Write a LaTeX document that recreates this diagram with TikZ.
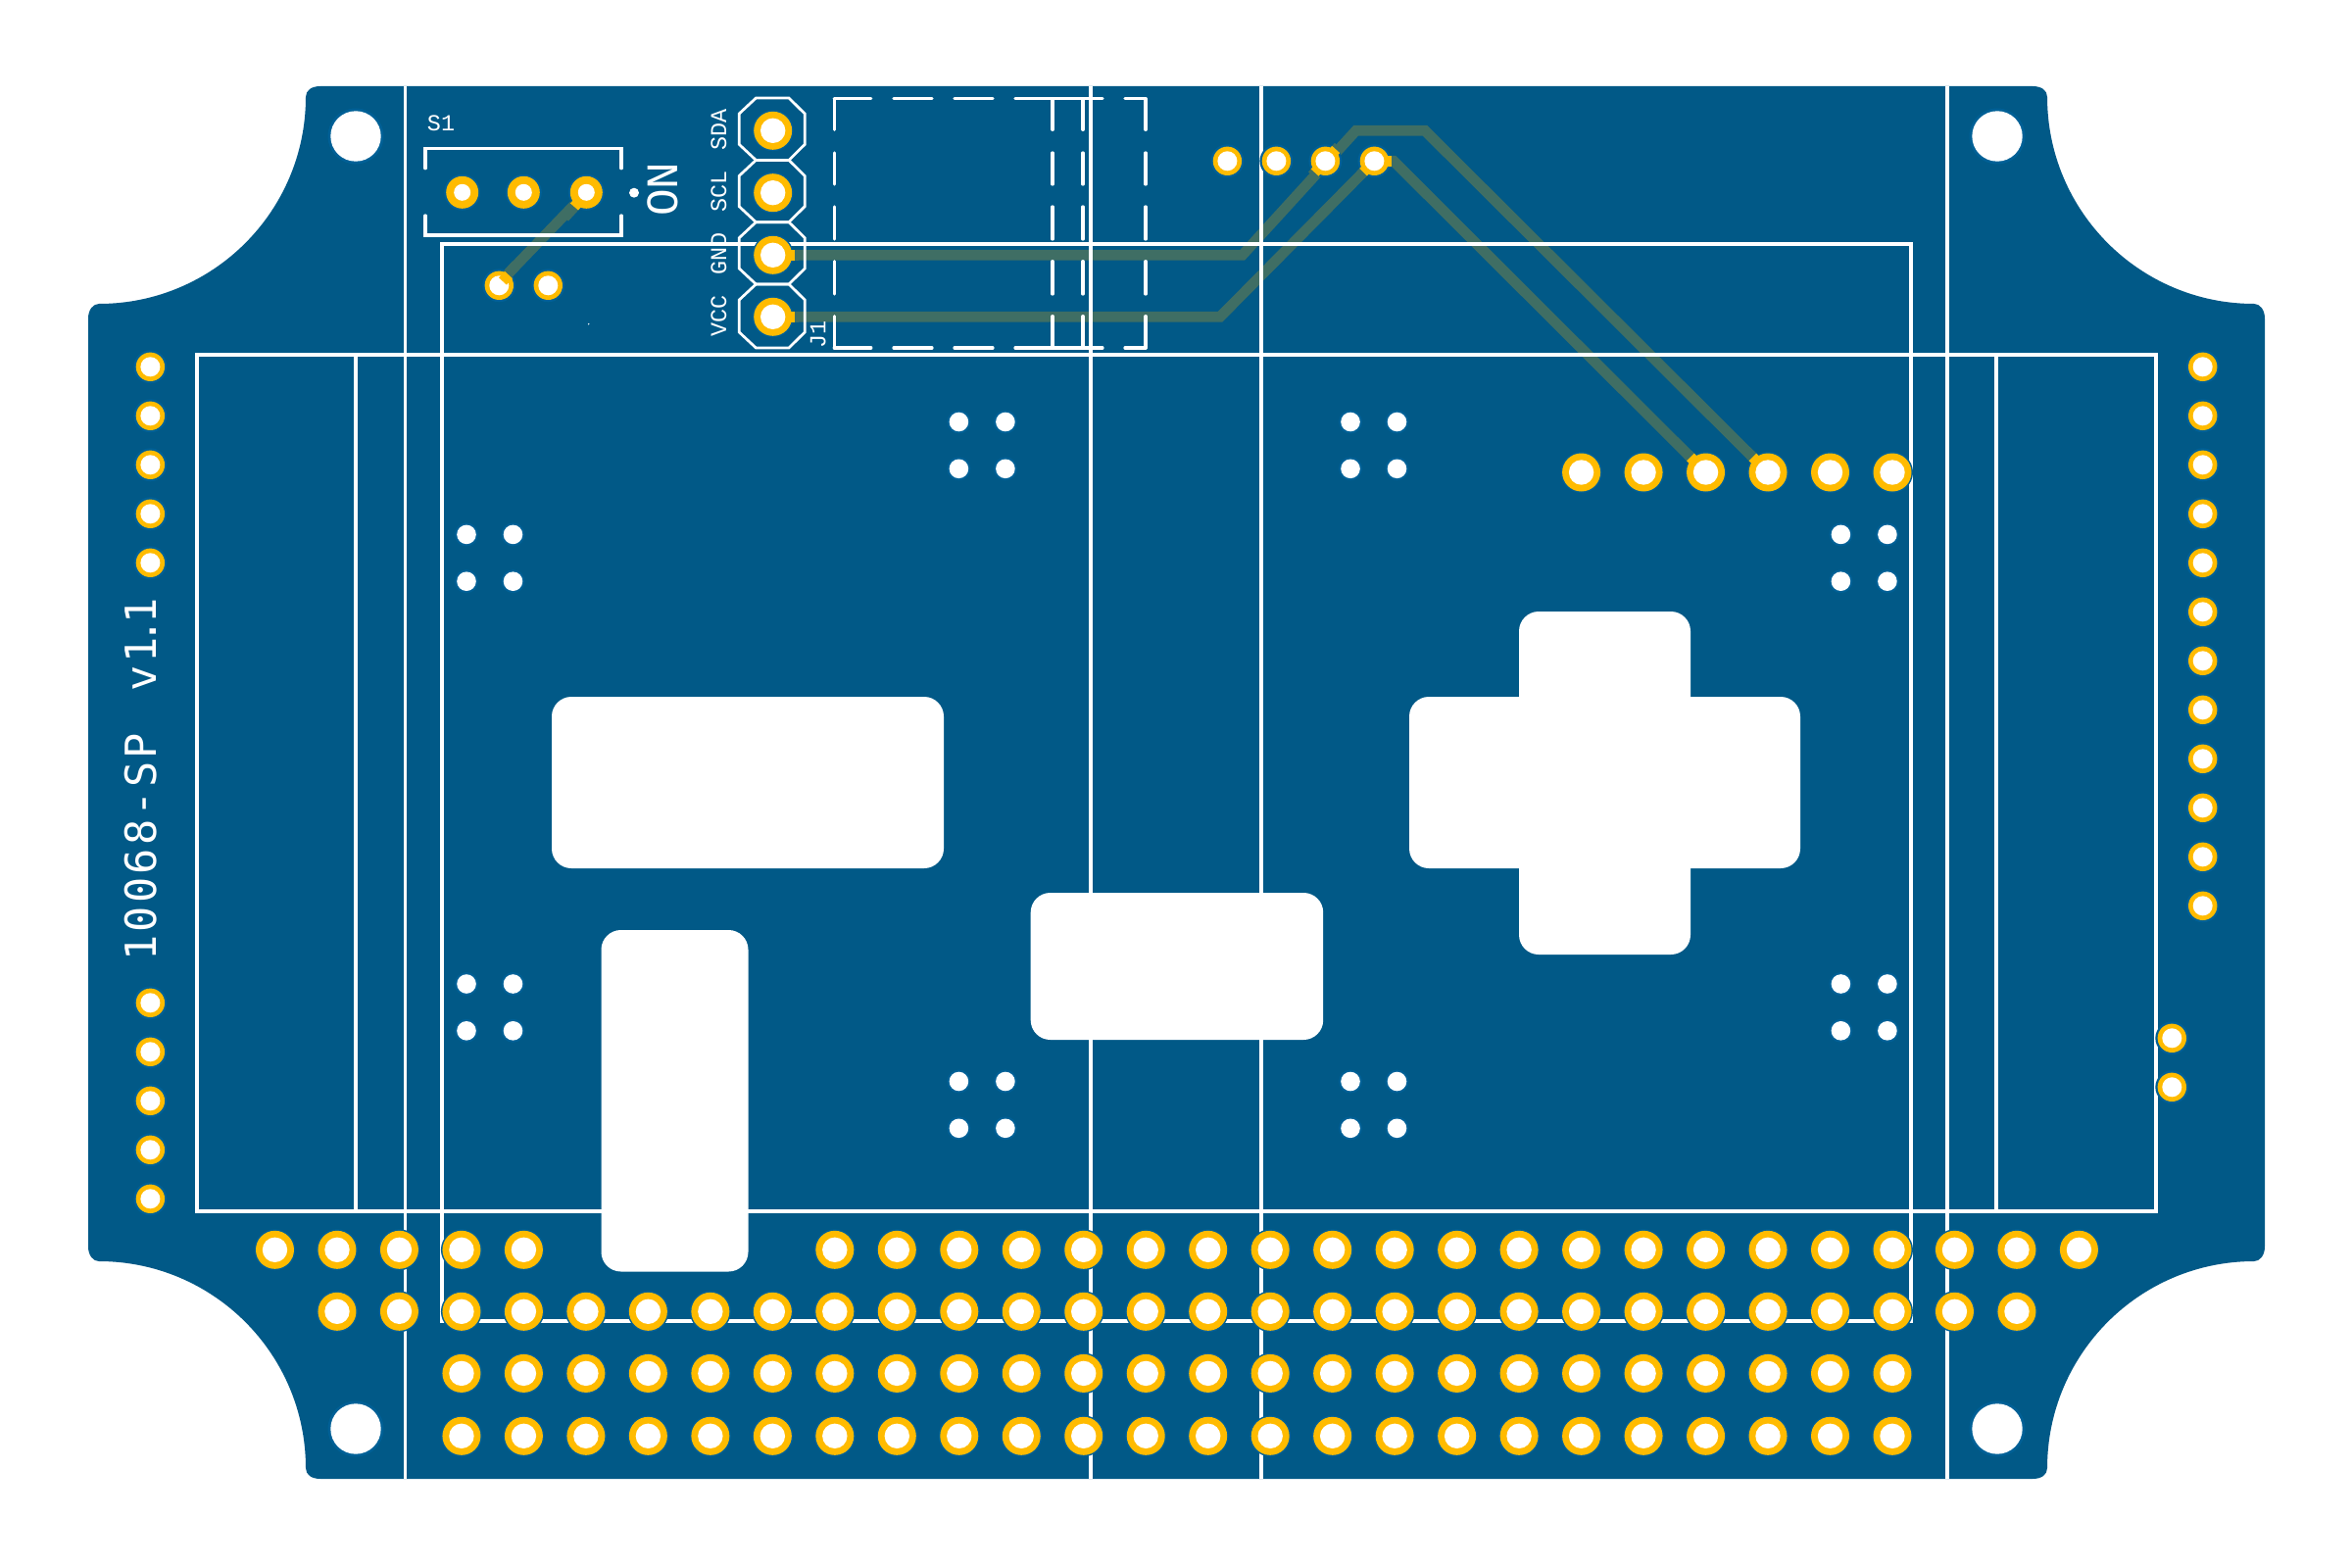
\documentclass[tikz,border=0pt]{standalone}
\usepackage{fontspec}
\newfontfamily\silkfont{Liberation Mono}
\newfontfamily\titlefont[LetterSpace=7.4]{DejaVu Sans Mono}
\definecolor{board}{HTML}{015987}
\definecolor{clear}{HTML}{006096}
\definecolor{copper}{HTML}{FFBB00}
\definecolor{track}{HTML}{3F6E64}
\tikzset{
  silk/.style={white,line width=1.05pt},
  silkthin/.style={white,line width=0.94pt,line cap=round,line join=miter},
  silkoct/.style={white,line width=0.77pt,line join=miter},
  trk/.style={track,line width=3.04pt,line join=miter},
  cu/.style={copper,line width=3.04pt},
  lbl/.style={white,inner sep=0pt,font=\silkfont\fontsize{6.66}{8}\selectfont},
  cutout/.style={white,rounded corners=5.7pt},
}
\newcommand{\thpad}[5]{%
  \fill[clear] (#1,#2) circle (#3);
  \fill[copper] (#1,#2) circle (#4);
  \fill[white] (#1,#2) circle (#5);}
\newcommand{\bigpad}[2]{\thpad{#1}{#2}{21}{19.5}{12.7}}
\newcommand{\midpad}[2]{\thpad{#1}{#2}{18.5}{16.5}{8.5}}
\newcommand{\smallpad}[2]{\thpad{#1}{#2}{17}{14.7}{10}}
\newcommand{\drill}[2]{%
  \fill[clear] (#1,#2) circle (12);
  \fill[white] (#1,#2) circle (9.8);}
\newcommand{\stub}[7]{%
  \draw[trk] ({#1+#3*#6},{#2+#4*#6}) -- ({#1+#3*#7},{#2+#4*#7});
  \draw[cu] ({#1+#3*#5},{#2+#4*#5}) -- ({#1+#3*#6},{#2+#4*#6});}
\begin{document}
\begin{tikzpicture}[x=0.01cm,y=-0.01cm]
\useasboundingbox (0,0) rectangle (2400,1600);
% board outline
\fill[board] (327,88) -- (2074,88) .. controls (2083,88) and (2089,92) .. (2089,99)
  .. controls (2089,215.5) and (2183.5,310) .. (2300,310)
  .. controls (2306,310) and (2311,316) .. (2311,325)
  -- (2311,1272) .. controls (2311,1281) and (2306,1287) .. (2300,1287)
  .. controls (2183.5,1287) and (2089,1381.5) .. (2089,1498)
  .. controls (2089,1505) and (2083,1509) .. (2074,1509)
  -- (327,1509) .. controls (318,1509) and (312,1505) .. (312,1498)
  .. controls (312,1381.5) and (217.5,1287) .. (101,1287)
  .. controls (95,1287) and (90,1281) .. (90,1272)
  -- (90,325) .. controls (90,316) and (95,310) .. (101,310)
  .. controls (217.5,310) and (312,215.5) .. (312,99)
  .. controls (312,92) and (318,88) .. (327,88) -- cycle;
% tracks
\draw[trk] (788.7,260.3) -- (1267.7,260.3) -- (1383.6,133.3) -- (1454,133.3) -- (1804,482);
\draw[trk] (788.7,323.3) -- (1245,323.3) -- (1402.4,164.3) -- (1422,164.3) -- (1740.5,482);
\draw[trk] (587,208) -- (512,286);
% silk frames
\draw[silk] (201,362) rectangle (2200,1236);
\draw[silk] (363,362) -- (363,1236);
\draw[silk] (2037,362) -- (2037,1236);
\draw[silk] (451,249) rectangle (1950,1348);
\foreach \vx in {413.5,1113,1287,1987} {\draw[silk] (\vx,88) -- (\vx,1509);}
% cut-outs
\fill[cutout] (563,711) rectangle (963,886);
\fill[cutout] (613.5,949) rectangle (763.5,1297.5);
\fill[cutout] (1051.7,911) rectangle (1350.2,1061);
\fill[cutout] (1438,711) rectangle (1837,886);
\fill[cutout] (1550,624) rectangle (1725,974);
% switch bracket
\draw[silkthin] (434,171.7) -- (434,151.7) -- (634,151.7) -- (634,171.7);
\draw[silkthin] (434,220) -- (434,240) -- (634,240) -- (634,220);
\fill[white] (647,196.7) circle (5);
\fill[white] (600.7,330.7) circle (0.8);
% dashed connector outline
\foreach \vx in {851.3,1074,1105,1169} {
  \foreach \ya/\yb in {100.7/132.3,156/188,211/244,266.7/300,322.7/355} {
    \draw[silkthin] (\vx,\ya) -- (\vx,\yb);}}
\foreach \hy in {100.7,355} {
  \foreach \xa/\xb in {851.3/888.8,912/951,974/1013,1036/1125,1148/1169} {
    \draw[silkthin] (\xa,\hy) -- (\xb,\hy);}}
% header octagons
\foreach \ya/\yb in {100/163.4,163.4/226.7,226.7/290,290/355} {
  \draw[silkoct] (771.4,\ya) -- (805,\ya) -- (821.2,{\ya+16}) -- (821.2,{\yb-16}) -- (805,\yb)
    -- (771.4,\yb) -- (754.3,{\yb-16}) -- (754.3,{\ya+16}) -- cycle;}
% mounting holes
\foreach \hx/\hy in {363/139,2038/139,363/1458,2038/1458} {
  \fill[clear] (\hx,\hy) circle (28.5);
  \fill[white] (\hx,\hy) circle (25.7);}
% drills
\foreach \gx/\gy in {978.4/430.5,1378/430.5,476/545.4,1878.4/545.4,476/1004,1878.4/1004,978.4/1103.5,1378/1103.5} {
  \drill{\gx}{\gy}
  \drill{\gx+47.5}{\gy}
  \drill{\gx}{\gy+47.8}
  \drill{\gx+47.5}{\gy+47.8}}
% pad rows
\foreach \n in {0,...,4,9,10,...,29} {\pgfmathsetmacro\px{280.5+63.48*\n}\bigpad{\px}{1275.3}}
\foreach \n in {1,...,28} {\pgfmathsetmacro\px{280.5+63.48*\n}\bigpad{\px}{1338.3}}
\foreach \n in {3,...,26} {\pgfmathsetmacro\px{280.5+63.48*\n}\bigpad{\px}{1401.4}\bigpad{\px}{1465.3}}
\foreach \n in {21,...,26} {\pgfmathsetmacro\px{280.5+63.48*\n}\bigpad{\px}{482}}
\foreach \py in {133.3,196.7,260.3,323.3} {\bigpad{788.7}{\py}}
% small pads
\foreach \k in {0,...,4} {\pgfmathsetmacro\py{374.3+50*\k}\smallpad{153.4}{\py}}
\foreach \k in {0,...,4} {\pgfmathsetmacro\py{1023.3+50*\k}\smallpad{153.4}{\py}}
\foreach \k in {0,...,11} {\pgfmathsetmacro\py{374.3+50*\k}\smallpad{2247.7}{\py}}
\smallpad{2216.3}{1059.3}
\smallpad{2216.3}{1109.3}
\foreach \tx in {1252.4,1302.4,1352.4,1402.4} {\smallpad{\tx}{164.3}}
\midpad{471.7}{196.3}
\midpad{534.3}{196.3}
\midpad{598.3}{196.3}
\smallpad{509.3}{291.3}
\smallpad{559.3}{291.3}
% track entries on pads
\stub{788.7}{260.3}{1}{0}{15}{22.5}{26}
\stub{788.7}{323.3}{1}{0}{15}{22.5}{26}
\stub{1740.5}{482}{-.7071}{-.7071}{15}{22}{26}
\stub{1804}{482}{-.7071}{-.7071}{15}{22}{26}
\stub{1352.4}{164.3}{.674}{-.739}{12}{16}{20}
\stub{1352.4}{164.3}{-.674}{.739}{12}{16}{20}
\stub{1402.4}{164.3}{1}{0}{12}{18}{20}
\stub{1402.4}{164.3}{-.7071}{.7071}{12}{16}{20}
\draw[trk] (587,210) -- (576,222);
\draw[cu] (592,204) -- (586,211);
\draw[trk] (527,270) -- (518,280);
\draw[cu] (513,287) -- (519,280.5);
% labels
\node[lbl,rotate=90,anchor=base] (sda) at (741,132.5) {SDA};
\node[lbl,rotate=90,anchor=base] (scl) at (741,195.8) {SCL};
\node[lbl,rotate=90,anchor=base] (gnd) at (741,259) {GND};
\node[lbl,rotate=90,anchor=base] (vcc) at (741,322.5) {VCC};
\node[lbl,rotate=90,anchor=base] (j1) at (842.3,341.6) {J1};
\node[lbl,anchor=base] (s1) at (450,133.3) {S1};
\node[lbl,rotate=90,anchor=base,font=\silkfont\fontsize{13.1}{15}\selectfont] (on) at (691.7,193.3) {ON};
\node[lbl,rotate=90,anchor=base west,font=\titlefont\fontsize{12.4}{15}\selectfont] (title) at (159.3,981.4)
  {10068-SP\kern3.6pt{} v1\kern-2.1pt.\kern-1.55pt 1};
\end{tikzpicture}
\end{document}
